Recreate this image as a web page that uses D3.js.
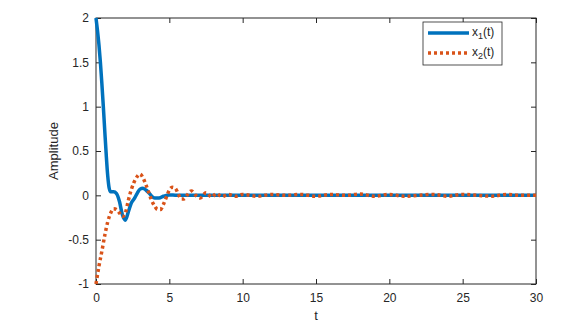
<!DOCTYPE html>
<html lang="en">
<head>
    <meta charset="UTF-8">
    <title>Amplitude</title>
    <script src="https://cdn.jsdelivr.net/npm/d3@7"></script>
    <style>
        body { margin: 0; background: #fff; }
        text { font-family: "Liberation Sans", Arial, sans-serif; fill: #262626; }
        .tick text { font-size: 12px; fill: #262626; }
        .domain { display: none; }
        .tick line { stroke: #262626; }
    </style>
</head>
<body>
<svg width="587" height="327"></svg>
<script>
    // x1(t)
    var t1 = [0, 0.1, 0.2, 0.3, 0.4, 0.5, 0.6, 0.7, 0.8, 0.9, 1.0, 1.2, 1.4, 1.6, 1.8, 2.0,
              2.2, 2.4, 2.6, 2.8, 3.0, 3.2, 3.4, 3.6, 3.8, 4.0, 4.3, 4.6, 5.0, 5.5, 6, 8, 10, 15, 20, 25, 30];
    var x1 = [2, 1.86, 1.7, 1.5, 1.26, 1.0, 0.72, 0.45, 0.22, 0.08, 0.04, 0.04, 0.02, -0.07, -0.22, -0.28,
              -0.19, -0.09, -0.04, 0.02, 0.07, 0.08, 0.06, 0.03, -0.01, -0.03, -0.03, -0.01, 0.005, 0, 0, 0, 0, 0, 0, 0, 0];

    // x2(t)
    var t2 = [0, 0.2, 0.4, 0.6, 0.8, 1.0, 1.2, 1.4, 1.6, 1.8, 2.0, 2.2, 2.4, 2.6, 2.8, 3.0, 3.2, 3.4, 3.6,
              3.8, 4.0, 4.2, 4.4, 4.6, 4.8, 5.0, 5.2, 5.4, 5.6, 5.8, 6.0, 6.2, 6.5, 6.8, 7.1, 7.5, 7.9, 8.2,
              8.6, 9.0, 9.5, 10, 11, 12, 13, 14, 15, 16, 17, 18, 19, 20, 21, 22, 23, 24, 25, 26, 27, 28, 29, 30];
    var x2 = [-1, -0.8, -0.63, -0.45, -0.3, -0.2, -0.15, -0.16, -0.2, -0.24, -0.2, -0.06, 0.06, 0.15, 0.21, 0.24, 0.2, 0.12, 0.03,
              -0.06, -0.12, -0.16, -0.16, -0.1, -0.02, 0.06, 0.09, 0.08, 0.02, -0.04, -0.04, 0, 0.05, 0, -0.03, 0.03, -0.02, 0.02,
              -0.015, 0.01, -0.01, 0.01, -0.01, 0.01, 0, 0.01, -0.01, 0.01, 0, 0.015, -0.01, 0.01, -0.01, 0, 0.01, -0.01, 0.01, 0, -0.01, 0.01, 0, 0];

    var xTicks = [0, 5, 10, 15, 20, 25, 30];
    var yTicks = [-1, -0.5, 0, 0.5, 1, 1.5, 2];

    var svg = d3.select("svg"),
        margin = {top: 18, right: 51, bottom: 43, left: 96},
        width = 587 - margin.left - margin.right,
        height = 327 - margin.top - margin.bottom;

    var g = svg.append("g")
        .attr("transform", "translate(" + margin.left + "," + margin.top + ")");

    var x = d3.scaleLinear().domain([0, 30]).range([0, width]);
    var y = d3.scaleLinear().domain([-1, 2]).range([height, 0]);
    var fmt = function(d) { return String(d); };

    // axes, ticks inside on all four sides
    g.append("g").attr("transform", "translate(0," + height + ")")
        .call(d3.axisBottom(x).tickValues(xTicks).tickFormat(fmt).tickSizeInner(-5).tickSizeOuter(0).tickPadding(9));
    g.append("g")
        .call(d3.axisTop(x).tickValues(xTicks).tickSizeInner(-5).tickSizeOuter(0).tickFormat(""));
    g.append("g")
        .call(d3.axisLeft(y).tickValues(yTicks).tickFormat(fmt).tickSizeInner(-5).tickSizeOuter(0).tickPadding(7));
    g.append("g").attr("transform", "translate(" + width + ",0)")
        .call(d3.axisRight(y).tickValues(yTicks).tickSizeInner(-5).tickSizeOuter(0).tickFormat(""));

    g.append("rect")
        .attr("width", width).attr("height", height)
        .attr("fill", "none").attr("stroke", "#262626").attr("stroke-width", 1);

    var line = d3.line()
        .x(function(d) { return x(d[0]); })
        .y(function(d) { return y(d[1]); })
        .curve(d3.curveMonotoneX);

    g.append("path")
        .datum(d3.zip(t1, x1))
        .attr("d", line)
        .attr("fill", "none").attr("stroke", "#0072BD").attr("stroke-width", 3.5);

    g.append("path")
        .datum(d3.zip(t2, x2))
        .attr("d", line)
        .attr("fill", "none").attr("stroke", "#D95319").attr("stroke-width", 3.5)
        .attr("stroke-dasharray", "3,3");

    // axis labels
    svg.append("text")
        .attr("x", margin.left + width / 2).attr("y", 320)
        .attr("text-anchor", "middle").style("font-size", "13px").text("t");
    svg.append("text")
        .attr("transform", "translate(58," + (margin.top + height / 2) + ") rotate(-90)")
        .attr("text-anchor", "middle").style("font-size", "13px").text("Amplitude");

    // legend
    var lg = svg.append("g").attr("transform", "translate(423,22)");
    lg.append("rect").attr("width", 79).attr("height", 43)
        .attr("fill", "#fff").attr("stroke", "#262626").attr("stroke-width", 0.8);
    var items = [
        {sub: "1", color: "#0072BD", dash: null},
        {sub: "2", color: "#D95319", dash: "3,3"}
    ];
    items.forEach(function(d, i) {
        var yy = 11 + i * 20;
        lg.append("line").attr("x1", 5).attr("x2", 46).attr("y1", yy).attr("y2", yy)
            .attr("stroke", d.color).attr("stroke-width", 3.5)
            .attr("stroke-dasharray", d.dash);
        var tx = lg.append("text").attr("x", 49).attr("y", yy + 3).style("font-size", "12px");
        tx.append("tspan").text("x");
        tx.append("tspan").attr("dy", 3).style("font-size", "9px").text(d.sub);
        tx.append("tspan").attr("dy", -3).text("(t)");
    });
</script>
</body>
</html>
